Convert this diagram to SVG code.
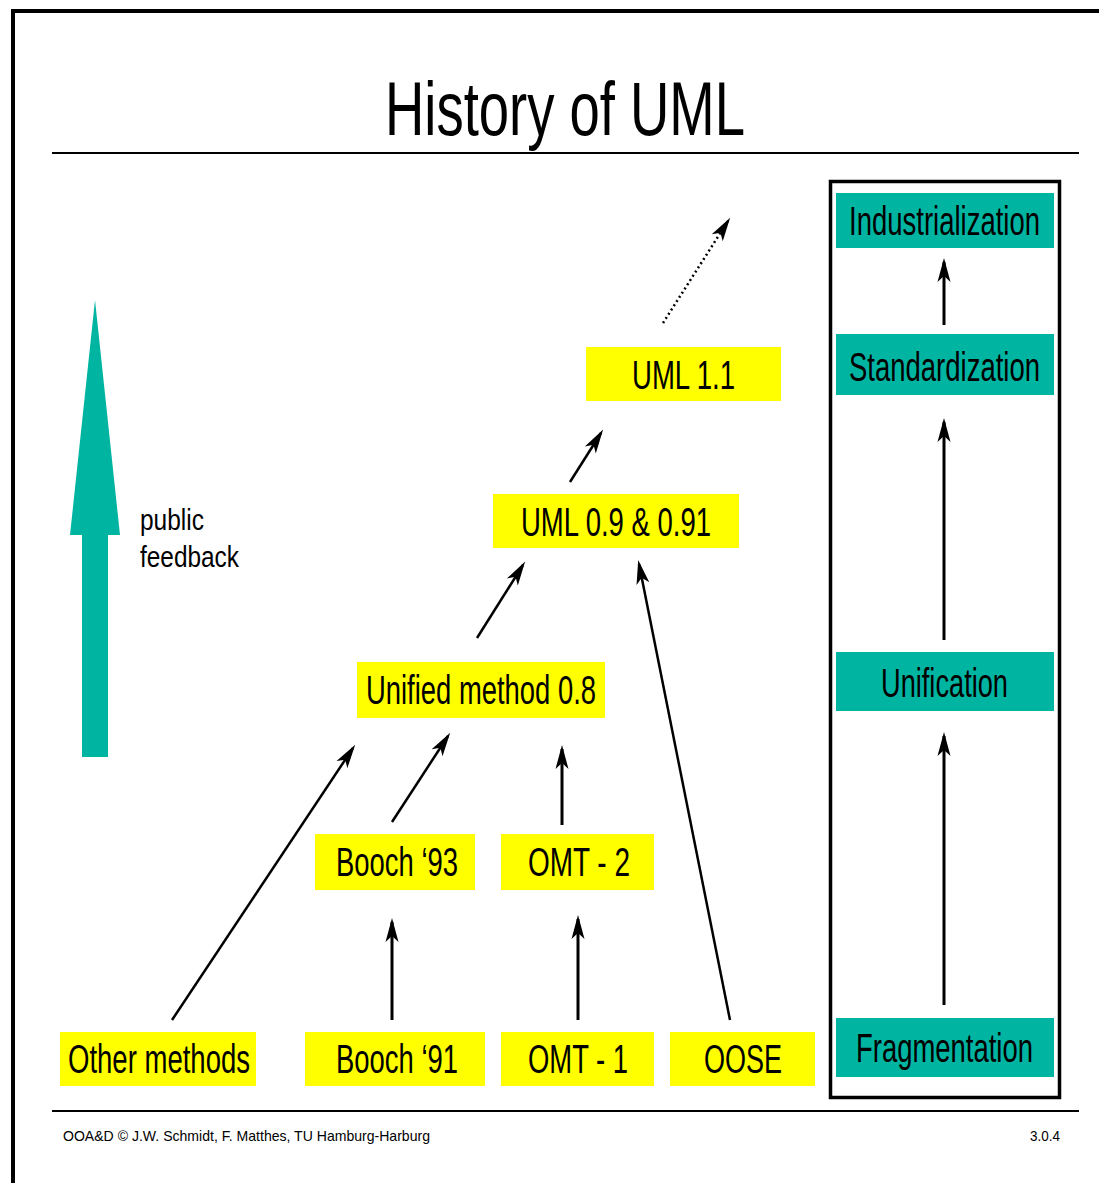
<svg xmlns="http://www.w3.org/2000/svg" width="1099" height="1183" viewBox="0 0 1099 1183">
<defs>
<style>
.t{font-family:"Liberation Sans",Arial,sans-serif;fill:#000}
.lbl{font-size:40px}
.y{fill:#FFFF00}
.g{fill:#00B4A2}
.c{stroke:#000;stroke-width:2.5;fill:none}
.v{stroke:#000;stroke-width:3;fill:none}
</style>
<marker id="ah" viewBox="-26 -8 28 16" refX="-4" refY="0" markerWidth="28" markerHeight="16" markerUnits="userSpaceOnUse" orient="auto">
<path d="M0,0 L-24,-6.5 L-18,0 L-24,6.5 Z" fill="#000"/>
</marker>
</defs>
<rect width="1099" height="1183" fill="#fff"/>
<path d="M13,1183 V11 H1099" stroke="#000" stroke-width="4" fill="none"/>
<text class="t" x="385" y="135" font-size="76" textLength="360" lengthAdjust="spacingAndGlyphs">History of UML</text>
<line x1="52" y1="153" x2="1079" y2="153" stroke="#000" stroke-width="2"/>
<line x1="52" y1="1111" x2="1079" y2="1111" stroke="#000" stroke-width="2"/>
<text class="t" x="63" y="1141" font-size="15" textLength="367" lengthAdjust="spacingAndGlyphs">OOA&amp;D  © J.W. Schmidt, F. Matthes, TU Hamburg-Harburg</text>
<text class="t" x="1030" y="1141" font-size="15" textLength="30" lengthAdjust="spacingAndGlyphs">3.0.4</text>

<g id="public-feedback">
<path d="M82,757 V535 H70 L95,300 L120,535 H108 V757 Z" class="g"/>
<text class="t" x="140" y="530" font-size="30" textLength="64" lengthAdjust="spacingAndGlyphs">public</text>
<text class="t" x="140" y="567" font-size="30" textLength="99" lengthAdjust="spacingAndGlyphs">feedback</text>
</g>

<rect x="830.5" y="181.5" width="229" height="916" fill="none" stroke="#000" stroke-width="3.5"/>
<g id="industrialization"><rect class="g" x="836" y="193" width="218" height="55"/><text class="t lbl" x="849" y="235" textLength="191" lengthAdjust="spacingAndGlyphs">Industrialization</text></g>
<g id="standardization"><rect class="g" x="836" y="334" width="218" height="61"/><text class="t lbl" x="849" y="381" textLength="191" lengthAdjust="spacingAndGlyphs">Standardization</text></g>
<g id="unification"><rect class="g" x="836" y="652" width="218" height="59"/><text class="t lbl" x="881" y="697" textLength="127" lengthAdjust="spacingAndGlyphs">Unification</text></g>
<g id="fragmentation"><rect class="g" x="836" y="1018" width="218" height="59"/><text class="t lbl" x="856" y="1062" textLength="177" lengthAdjust="spacingAndGlyphs">Fragmentation</text></g>

<g id="uml11"><rect class="y" x="586" y="347" width="195" height="54"/><text class="t lbl" x="632" y="389" textLength="103" lengthAdjust="spacingAndGlyphs">UML 1.1</text></g>
<g id="uml09"><rect class="y" x="493" y="494" width="246" height="54"/><text class="t lbl" x="521" y="536" textLength="190" lengthAdjust="spacingAndGlyphs">UML 0.9 &amp; 0.91</text></g>
<g id="unified08"><rect class="y" x="357" y="662" width="248" height="56"/><text class="t lbl" x="366" y="704" textLength="230" lengthAdjust="spacingAndGlyphs">Unified method 0.8</text></g>
<g id="booch93"><rect class="y" x="315" y="834" width="160" height="56"/><text class="t lbl" x="336" y="876" textLength="122" lengthAdjust="spacingAndGlyphs">Booch ‘93</text></g>
<g id="omt2"><rect class="y" x="501" y="834" width="153" height="56"/><text class="t lbl" x="528" y="876" textLength="102" lengthAdjust="spacingAndGlyphs">OMT - 2</text></g>
<g id="other"><rect class="y" x="60" y="1032" width="196" height="54"/><text class="t lbl" x="68" y="1073" textLength="182" lengthAdjust="spacingAndGlyphs">Other methods</text></g>
<g id="booch91"><rect class="y" x="305" y="1032" width="180" height="54"/><text class="t lbl" x="336" y="1073" textLength="122" lengthAdjust="spacingAndGlyphs">Booch ‘91</text></g>
<g id="omt1"><rect class="y" x="501" y="1032" width="153" height="54"/><text class="t lbl" x="528" y="1073" textLength="100" lengthAdjust="spacingAndGlyphs">OMT - 1</text></g>
<g id="oose"><rect class="y" x="670" y="1032" width="145" height="54"/><text class="t lbl" x="704" y="1073" textLength="78" lengthAdjust="spacingAndGlyphs">OOSE</text></g>

<g id="connectors">
<line class="v" x1="944" y1="325" x2="944" y2="262" marker-end="url(#ah)"/>
<line class="v" x1="944" y1="640" x2="944" y2="422" marker-end="url(#ah)"/>
<line class="v" x1="944" y1="1005" x2="944" y2="736" marker-end="url(#ah)"/>
<line class="c" x1="172" y1="1020" x2="353" y2="748" marker-end="url(#ah)"/>
<line class="v" x1="392" y1="1020" x2="392" y2="922" marker-end="url(#ah)"/>
<line class="v" x1="578" y1="1020" x2="578" y2="919" marker-end="url(#ah)"/>
<line class="c" x1="730" y1="1020" x2="639" y2="564" marker-end="url(#ah)"/>
<line class="c" x1="392" y1="822" x2="448" y2="736" marker-end="url(#ah)"/>
<line class="v" x1="562" y1="825" x2="562" y2="749" marker-end="url(#ah)"/>
<line class="c" x1="477" y1="638" x2="523" y2="565" marker-end="url(#ah)"/>
<line class="c" x1="570" y1="482" x2="601" y2="433" marker-end="url(#ah)"/>
<line class="c" x1="663" y1="323" x2="728" y2="221" stroke-dasharray="2 3" marker-end="url(#ah)"/>
</g>
</svg>
